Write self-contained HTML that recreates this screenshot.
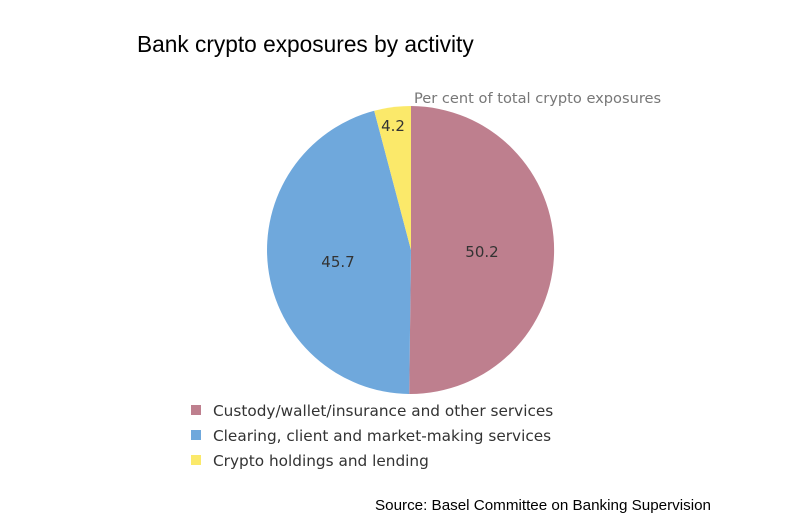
<!DOCTYPE html>
<html><head><style>
body{margin:0;width:810px;height:524px;background:#fff;overflow:hidden}
</style></head><body>
<svg width="810" height="524" xmlns="http://www.w3.org/2000/svg">
<text x="137" y="52" font-family="Liberation Sans, sans-serif" font-size="22.7" fill="#000">Bank crypto exposures by activity</text>
<text x="414" y="103" font-family="DejaVu Sans, sans-serif" font-size="14.6" fill="#777">Per cent of total crypto exposures</text>
<path d="M411,250 L411,106 A144,144 0 1,1 409.2,394 Z" fill="#be7f8e"/>
<path d="M411,250 L409.2,394 A144,144 0 0,1 374.2,110.8 Z" fill="#6fa8dc"/>
<path d="M411,250 L374.2,110.8 A144,144 0 0,1 411,106 Z" fill="#fbe96a"/>
<g font-family="DejaVu Sans, sans-serif" font-size="15" fill="#333" text-anchor="middle">
<text x="482" y="257">50.2</text>
<text x="338" y="267">45.7</text>
<text x="393" y="131">4.2</text>
</g>
<g font-family="DejaVu Sans, sans-serif" font-size="15.3" fill="#333">
<rect x="191" y="405" width="10" height="10" fill="#be7f8e"/>
<text x="213" y="416">Custody/wallet/insurance and other services</text>
<rect x="191" y="430" width="10" height="10" fill="#6fa8dc"/>
<text x="213" y="441">Clearing, client and market-making services</text>
<rect x="191" y="455" width="10" height="10" fill="#fbe96a"/>
<text x="213" y="466">Crypto holdings and lending</text>
</g>
<text x="375" y="510" font-family="Liberation Sans, sans-serif" font-size="15.2" fill="#000">Source: Basel Committee on Banking Supervision</text>
</svg>
</body></html>
